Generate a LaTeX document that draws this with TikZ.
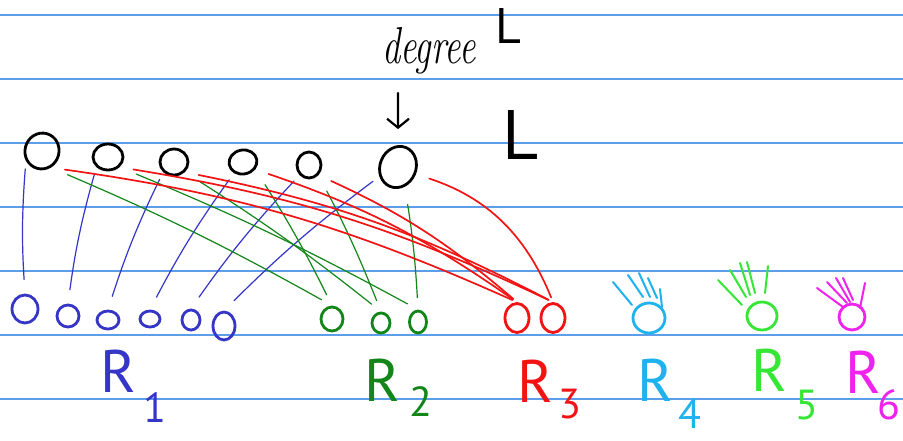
\documentclass[tikz,border=0pt]{standalone}
\usepackage{fontspec}
\setsansfont{PT Sans}
\usepackage{tikz}
\usetikzlibrary{arrows.meta,shapes.geometric}
\definecolor{rule}{HTML}{5C9EE8}
\definecolor{penblue}{HTML}{3535C8}
\definecolor{pengreen}{HTML}{13861A}
\definecolor{penred}{HTML}{F21414}
\definecolor{pencyan}{HTML}{1EB2EE}
\definecolor{penlime}{HTML}{35E635}
\definecolor{penpink}{HTML}{F022EE}
\tikzset{
  paper/.style={draw=rule, line width=1.3pt},
  vtx/.style={draw, ellipse, inner sep=0pt, line width=2.8pt},
  topv/.style={vtx, draw=black},
  edgeb/.style={draw=penblue, line width=1.2pt, line cap=round, shorten <=8pt, shorten >=14pt},
  edgeg/.style={draw=pengreen, line width=1.2pt, line cap=round, shorten <=18pt, shorten >=12pt},
  edger/.style={draw=penred, line width=1.7pt, line cap=round, shorten <=14pt, shorten >=5pt},
  hand/.style={line width=2pt, line cap=round},
  pointer/.style={-{Straight Barb[length=9pt, width=22pt, line width=2.2pt]}, line width=2.2pt,
    line cap=round, shorten >=16pt},
  rlab/.style={font=\sffamily\fontsize{60}{60}\selectfont, inner sep=0pt},
  rsub/.style={font=\sffamily\fontsize{42}{42}\selectfont, inner sep=0pt}
}

\begin{document}
\begin{tikzpicture}[x=1pt, y=-1pt]
  \fill[white] (0,0) rectangle (903,440);
  \useasboundingbox (0,0) rectangle (903,440);
  \foreach \ly in {15,79,...,399}
    \draw[paper] (0,\ly) -- (903,\ly);

  % top side
  \foreach \n/\px/\py/\ww/\hh/\rot in {1/42/151/34/36/-15, 2/108/157/30/26/0, 3/174/162/28/26/0,
      4/243/162/28/24/10, 5/309/165/24/26/0, 6/398/167/36/42/-22}
    \node[topv, minimum width=\ww pt, minimum height=\hh pt, rotate=\rot] (t\n) at (\px,\py) {};

  \node[anchor=base west, inner sep=0pt, font=\itshape\fontsize{52}{52}\selectfont] (deg) at (382,63)
    {\scalebox{0.7}[1]{degree}\hspace{20pt}\raisebox{20pt}{\upshape\sffamily\fontsize{50}{50}\selectfont L}};
  \coordinate (tip) at (398,93);
  \draw[pointer] (tip) -- (t6);
  \node[font=\sffamily\fontsize{70}{70}\selectfont, inner sep=0pt] (ell) at (521,135) {L};

  % bottom side
  \foreach \n/\px/\py/\ww/\hh in {1/25/309/26/28, 2/68/316/22/22, 3/108/320/22/18,
      4/150/319/20/16, 5/191/320/18/20, 6/224/326/22/28}
    \node[vtx, draw=penblue, minimum width=\ww pt, minimum height=\hh pt] (b\n) at (\px,\py) {};
  \foreach \n/\px/\py/\ww/\hh in {1/332/319/22/24, 2/381/323/18/20, 3/418/322/17/22}
    \node[vtx, draw=pengreen, minimum width=\ww pt, minimum height=\hh pt] (g\n) at (\px,\py) {};
  \foreach \n/\px in {1/517, 2/553}
    \node[vtx, draw=penred, minimum width=24pt, minimum height=29pt] (r\n) at (\px,318) {};
  \node[vtx, draw=pencyan, minimum width=32pt, minimum height=30pt] (u4) at (649,318) {};
  \node[vtx, draw=penlime, minimum width=30pt, minimum height=28pt] (u5) at (762,316) {};
  \node[vtx, draw=penpink, minimum width=26pt, minimum height=26pt] (u6) at (852,317) {};

  \foreach \ax/\ay/\bx/\by in {613/282/632/305, 628/275/643/297, 639/273/650/297, 648/278/657/298, 660/289/662/307}
    \draw[hand, pencyan] (\ax,\ay) -- (\bx,\by);
  \foreach \ax/\ay/\bx/\by in {718/280/742/305, 730/270/746/297, 740/263/750/295, 747/262/755/293, 768/266/765/293}
    \draw[hand, penlime] (\ax,\ay) -- (\bx,\by);
  \foreach \ax/\ay/\bx/\by in {817/288/843/307, 827/282/847/303, 836/278/850/302, 843/278/853/300, 865/283/860/308}
    \draw[hand, penpink] (\ax,\ay) -- (\bx,\by);

  % edges
  \foreach \i in {1,...,6}
    \draw[edgeb] (t\i.south west) to[bend right=4] (b\i.north);
  \foreach \i/\j in {1/1, 2/3, 3/2, 4/1, 5/2, 6/3}
    \draw[edgeg] (t\i.south east) to[bend left=3] (g\j.north);
  \foreach \i/\j in {1/1, 2/2, 3/2, 4/1, 5/1}
    \draw[edger] (t\i.south east) to[bend left=8] (r\j.north);
  \draw[edger] (t6.east) to[bend left=25] (r2.north);

  % labels
  \foreach \n/\col/\lx/\ly/\sx/\sy in {1/penblue/118/371/155/408, 2/pengreen/382/380/421/402,
      3/penred/535/381/570/404, 4/pencyan/655/380/690/414, 5/penlime/769/370/807/405,
      6/penpink/863/372/889/405} {
    \node[rlab, text=\col] (lab\n) at (\lx,\ly) {R};
    \node[rsub, text=\col] (sub\n) at (\sx,\sy) {\n};
  }
\end{tikzpicture}
\end{document}
